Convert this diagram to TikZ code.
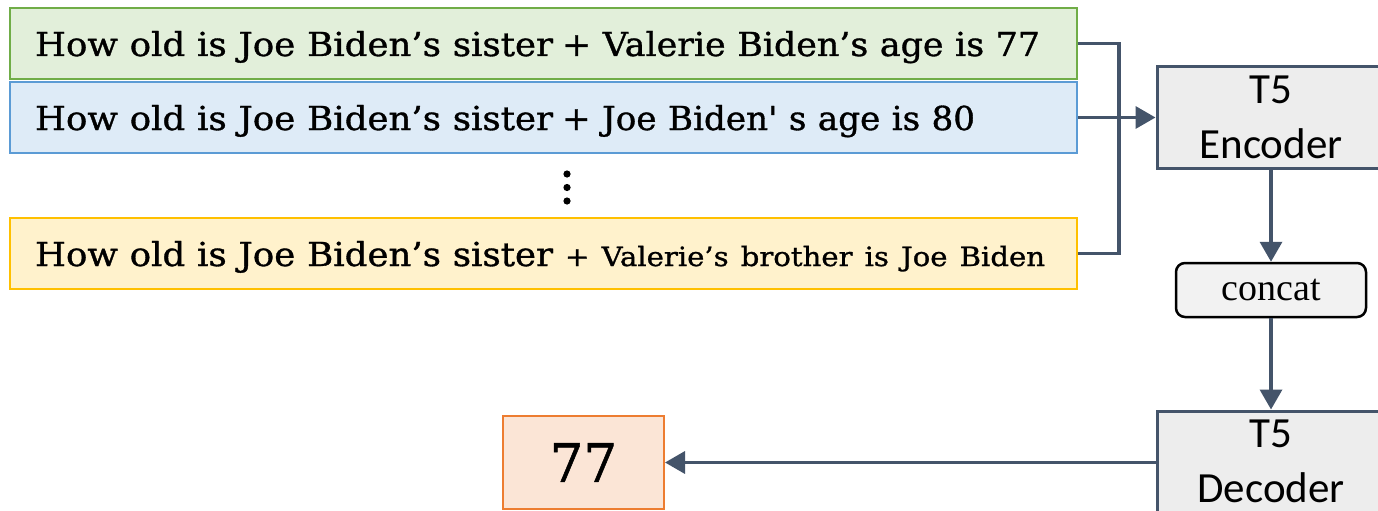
\documentclass[tikz,border=0pt]{standalone}
\usepackage{graphicx}
\usepackage{fontspec}
\usetikzlibrary{arrows.meta}
\newfontfamily\twfont[FakeBold=1]{DejaVu Serif}
\newfontfamily\calibfont{Carlito}
\newfontfamily\tmsfont{Liberation Serif}
\newcommand\fitto[2]{\resizebox{#1}{\height}{#2}}
\definecolor{connc}{HTML}{44546A}
\definecolor{gfill}{HTML}{E2EFDA}\definecolor{gdraw}{HTML}{70AD47}
\definecolor{bfill}{HTML}{DEEBF7}\definecolor{bdraw}{HTML}{5B9BD5}
\definecolor{yfill}{HTML}{FFF2CC}\definecolor{ydraw}{HTML}{FFC000}
\definecolor{ofill}{HTML}{FBE5D6}\definecolor{odraw}{HTML}{ED7D31}
\definecolor{tfill}{HTML}{EDEDED}\definecolor{cfill}{HTML}{F2F2F2}
\tikzset{
  tbox/.style={draw, line width=1.5pt, minimum width=1067pt, minimum height=71pt,
    text width=1017pt, align=left, inner xsep=25pt, inner ysep=0pt,
    text height=30pt, text depth=5pt, font=\twfont\fontsize{33}{40}\selectfont},
  tfive/.style={draw=connc, fill=tfill, line width=3pt, minimum width=228pt,
    minimum height=101pt, align=center, inner sep=0pt,
    font=\calibfont\fontsize{43}{55}\selectfont},
  conn/.style={draw=connc, line width=3.5pt},
  arr/.style={conn, -{Triangle[length=20pt,width=22pt]}},
}
\begin{document}
\begin{tikzpicture}[x=1pt,y=-1pt]
\useasboundingbox (0,0) rectangle (1378,511);
\clip (0,0) rectangle (1378,511);
\fill[white] (0,0) rectangle (1378,511);
% question/passage boxes
\node[tbox, fill=gfill, draw=gdraw] (q1) at (543.5,43.5)
  {\fitto{518pt}{How old is Joe Biden’s sister}\hspace{9pt}\fitto{478pt}{+ Valerie Biden’s age is 77}};
\node[tbox, fill=bfill, draw=bdraw] (q2) at (543.5,117.5)
  {\fitto{518pt}{How old is Joe Biden’s sister}\hspace{9pt}\fitto{413pt}{+ Joe Biden' s age is 80}};
\node[tbox, fill=yfill, draw=ydraw] (q3) at (543.5,253.5)
  {\fitto{518pt}{How old is Joe Biden’s sister}\hspace{12pt}\fitto{480pt}{\fontsize{26.5}{32}\selectfont + Valerie’s brother is Joe Biden}};
% vertical dots
\foreach \yy in {174,187.5,201} \fill (567,\yy) circle (3.6);
% model boxes
\node[tfive] (enc) at (1271,117.5) {T5\\Encoder};
\node[draw=black, fill=cfill, line width=2.5pt, rounded corners=9pt,
  minimum width=190pt, minimum height=54pt, inner sep=0pt,
  font=\tmsfont\fontsize{38}{44}\selectfont] (cat) at (1271,290) {concat};
\node[tfive] (dec) at (1271,461.5) {T5\\Decoder};
\node[draw=odraw, fill=ofill, line width=2pt, minimum width=161pt,
  minimum height=93pt, inner sep=0pt, font=\twfont\fontsize{53}{60}\selectfont]
  (ans) at (583.5,462.5) {77};
% connectors
\coordinate (jx) at (1119,0);
\draw[conn] (q1.east) -- (q1.east -| jx) -- (q3.east -| jx) -- (q3.east);
\draw[arr] (q2.east) -- (enc.west);
\draw[arr] (enc.south) -- (cat.north);
\draw[arr] (cat.south) -- (dec.north);
\draw[arr] (ans.east -| dec.west) -- (ans.east);
\end{tikzpicture}
\end{document}
